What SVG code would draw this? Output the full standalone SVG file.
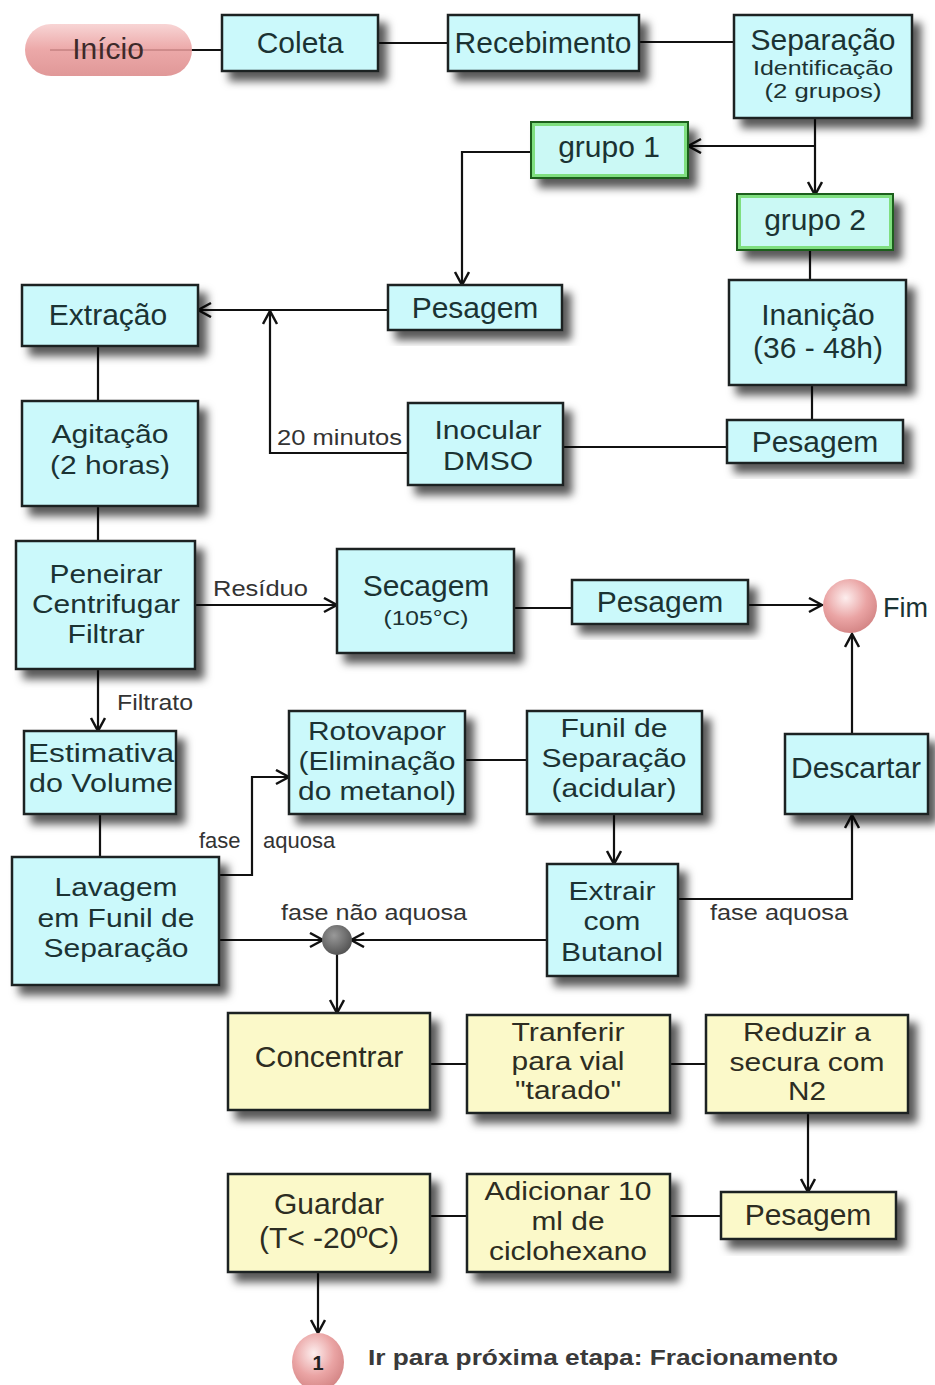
<svg xmlns="http://www.w3.org/2000/svg" width="935" height="1385" viewBox="0 0 935 1385">
<defs>
<style>
.box{fill:#cbf9fb;stroke:#1a2424;stroke-width:2.5;filter:url(#sh)}
.ybox{fill:#fbf9c9;stroke:#1a2424;stroke-width:2.5;filter:url(#sh)}
.gbox{fill:#cbf9f5;stroke:#1f5f1f;stroke-width:2;filter:url(#sh)}
.gin{fill:none;stroke:#7fdf7f;stroke-width:3}
.t{font-family:"Liberation Sans",Arial,sans-serif;font-size:30px;fill:#1b3333;text-anchor:middle}
.ty{font-family:"Liberation Sans",Arial,sans-serif;font-size:30px;fill:#2d2d22;text-anchor:middle}
.m{font-size:26px}
.l{font-family:"Liberation Sans",Arial,sans-serif;font-size:22px;fill:#333;text-anchor:start}
.c{fill:none;stroke:#111;stroke-width:2.2}
.a{marker-end:url(#arr)}
</style>
<filter id="sh" x="-15%" y="-15%" width="140%" height="150%">
<feDropShadow dx="8" dy="9" stdDeviation="4" flood-color="#000" flood-opacity="0.65"/>
</filter>
<marker id="arr" markerUnits="userSpaceOnUse" markerWidth="16" markerHeight="18" refX="14" refY="8" orient="auto">
<path d="M1,1 L14,8 L1,15" fill="none" stroke="#111" stroke-width="2.5"/>
</marker>
<linearGradient id="pill" x1="0" y1="0" x2="0" y2="1">
<stop offset="0" stop-color="#f7cfcf"/>
<stop offset="0.5" stop-color="#e99c9c"/>
<stop offset="1" stop-color="#dc8a8a"/>
</linearGradient>
<radialGradient id="ball" cx="0.42" cy="0.35" r="0.65">
<stop offset="0" stop-color="#fdeeee"/>
<stop offset="0.6" stop-color="#eaa4a4"/>
<stop offset="1" stop-color="#d58787"/>
</radialGradient>
<radialGradient id="dot" cx="0.4" cy="0.35" r="0.65">
<stop offset="0" stop-color="#999"/>
<stop offset="1" stop-color="#555"/>
</radialGradient>
</defs>
<rect width="935" height="1385" fill="#fff"/>

<g id="connectors">
<path class="c" d="M50,50 H222"/>
<path class="c" d="M378,43 H448"/>
<path class="c" d="M639,42 H734"/>
<path class="c a" d="M815,118 V195"/>
<path class="c a" d="M815,146 H688"/>
<path class="c a" d="M531,152 H462 V285"/>
<path class="c" d="M810,250 V280"/>
<path class="c" d="M812,385 V420"/>
<path class="c" d="M727,447 H563"/>
<path class="c a" d="M408,453 H270 V311"/>
<path class="c a" d="M388,310 H198"/>
<path class="c" d="M98,346 V401"/>
<path class="c" d="M98,506 V541"/>
<path class="c a" d="M195,605 H337"/>
<path class="c" d="M514,608 H572"/>
<path class="c a" d="M748,605 H822"/>
<path class="c a" d="M98,669 V731"/>
<path class="c" d="M100,814 V857"/>
<path class="c a" d="M219,875 H252 V777 H289"/>
<path class="c" d="M465,760 H527"/>
<path class="c a" d="M614,814 V864"/>
<path class="c a" d="M678,899 H852 V815"/>
<path class="c a" d="M852,734 V634"/>
<path class="c a" d="M219,940 H323"/>
<path class="c a" d="M547,940 H351"/>
<path class="c a" d="M337,940 V1013"/>
<path class="c" d="M430,1064 H467"/>
<path class="c" d="M670,1064 H706"/>
<path class="c a" d="M808,1113 V1192"/>
<path class="c" d="M721,1216 H670"/>
<path class="c" d="M467,1216 H430"/>
<path class="c a" d="M318,1273 V1333"/>
</g>

<g id="inicio">
<rect x="25" y="24" width="167" height="52" rx="26" fill="url(#pill)" opacity="0.88"/>
<text x="108" y="59" class="t" style="fill:#3d2a2a">Início</text>
</g>
<g id="coleta">
<rect class="box" x="222" y="15" width="156" height="56"/>
<text class="t" x="300" y="53">Coleta</text>
</g>
<g id="recebimento">
<rect class="box" x="448" y="15" width="191" height="56"/>
<text class="t" x="543" y="53">Recebimento</text>
</g>
<g id="separacao">
<rect class="box" x="734" y="15" width="178" height="103"/>
<text class="t" x="823" y="50">Separação</text>
<text class="t" x="823" y="75" style="font-size:20px" textLength="140" lengthAdjust="spacingAndGlyphs">Identificação</text>
<text class="t" x="823" y="98" style="font-size:20px" textLength="117" lengthAdjust="spacingAndGlyphs">(2 grupos)</text>
</g>
<g id="grupo1">
<rect class="gbox" x="531" y="122" width="157" height="56"/>
<rect class="gin" x="533.5" y="124.5" width="152" height="51"/>
<text class="t" x="609" y="157">grupo 1</text>
</g>
<g id="grupo2">
<rect class="gbox" x="737" y="194" width="156" height="56"/>
<rect class="gin" x="739.5" y="196.5" width="151" height="51"/>
<text class="t" x="815" y="230">grupo 2</text>
</g>
<g id="pesagem1">
<rect class="box" x="388" y="285" width="174" height="45"/>
<text class="t" x="475" y="318">Pesagem</text>
</g>
<g id="extracao">
<rect class="box" x="22" y="285" width="176" height="61"/>
<text class="t" x="108" y="325">Extração</text>
</g>
<g id="inanicao">
<rect class="box" x="729" y="280" width="177" height="105"/>
<text class="t" x="818" y="325">Inanição</text>
<text class="t" x="818" y="358">(36 - 48h)</text>
</g>
<g id="agitacao">
<rect class="box" x="22" y="401" width="176" height="105"/>
<text class="t m" x="110" y="443" textLength="117" lengthAdjust="spacingAndGlyphs">Agitação</text>
<text class="t m" x="110" y="474" textLength="120" lengthAdjust="spacingAndGlyphs">(2 horas)</text>
</g>
<g id="inocular">
<rect class="box" x="408" y="403" width="155" height="82"/>
<text class="t m" x="488" y="439" textLength="107" lengthAdjust="spacingAndGlyphs">Inocular</text>
<text class="t m" x="488" y="470" textLength="90" lengthAdjust="spacingAndGlyphs">DMSO</text>
</g>
<text class="l" x="277" y="445" textLength="125" lengthAdjust="spacingAndGlyphs">20 minutos</text>
<g id="pesagem2">
<rect class="box" x="727" y="420" width="176" height="43"/>
<text class="t" x="815" y="452">Pesagem</text>
</g>
<g id="peneirar">
<rect class="box" x="16" y="541" width="179" height="128"/>
<text class="t m" x="106" y="583" textLength="113" lengthAdjust="spacingAndGlyphs">Peneirar</text>
<text class="t m" x="106" y="613" textLength="148" lengthAdjust="spacingAndGlyphs">Centrifugar</text>
<text class="t m" x="106" y="643" textLength="77" lengthAdjust="spacingAndGlyphs">Filtrar</text>
</g>
<text class="l" x="213" y="596" textLength="95" lengthAdjust="spacingAndGlyphs">Resíduo</text>
<g id="secagem">
<rect class="box" x="337" y="549" width="177" height="104"/>
<text class="t" x="426" y="596">Secagem</text>
<text class="t" x="426" y="625" style="font-size:20px" textLength="85" lengthAdjust="spacingAndGlyphs">(105°C)</text>
</g>
<g id="pesagem3">
<rect class="box" x="572" y="580" width="176" height="44"/>
<text class="t" x="660" y="612">Pesagem</text>
</g>
<g id="fim">
<circle cx="850" cy="606" r="27" fill="url(#ball)"/>
<text class="l" x="883" y="617" style="font-size:27px;fill:#1b3333">Fim</text>
</g>
<text class="l" x="117" y="710" textLength="76" lengthAdjust="spacingAndGlyphs">Filtrato</text>
<g id="estimativa">
<rect class="box" x="24" y="731" width="152" height="83"/>
<text class="t m" x="101" y="762" textLength="146" lengthAdjust="spacingAndGlyphs">Estimativa</text>
<text class="t m" x="101" y="792" textLength="144" lengthAdjust="spacingAndGlyphs">do Volume</text>
</g>
<g id="rotovapor">
<rect class="box" x="289" y="711" width="176" height="103"/>
<text class="t m" x="377" y="740" textLength="138" lengthAdjust="spacingAndGlyphs">Rotovapor</text>
<text class="t m" x="377" y="770" textLength="157" lengthAdjust="spacingAndGlyphs">(Eliminação</text>
<text class="t m" x="377" y="800" textLength="158" lengthAdjust="spacingAndGlyphs">do metanol)</text>
</g>
<g id="funil">
<rect class="box" x="527" y="711" width="175" height="103"/>
<text class="t m" x="614" y="737" textLength="107" lengthAdjust="spacingAndGlyphs">Funil de</text>
<text class="t m" x="614" y="767" textLength="145" lengthAdjust="spacingAndGlyphs">Separação</text>
<text class="t m" x="614" y="797" textLength="125" lengthAdjust="spacingAndGlyphs">(acidular)</text>
</g>
<g id="descartar">
<rect class="box" x="785" y="734" width="143" height="80"/>
<text class="t" x="856" y="778">Descartar</text>
</g>
<text class="l" x="199" y="848"><tspan x="199">fase</tspan><tspan x="263">aquosa</tspan></text>
<g id="lavagem">
<rect class="box" x="12" y="857" width="207" height="128"/>
<text class="t m" x="116" y="896" textLength="123" lengthAdjust="spacingAndGlyphs">Lavagem</text>
<text class="t m" x="116" y="927" textLength="157" lengthAdjust="spacingAndGlyphs">em Funil de</text>
<text class="t m" x="116" y="957" textLength="145" lengthAdjust="spacingAndGlyphs">Separação</text>
</g>
<text class="l" x="281" y="920" textLength="186" lengthAdjust="spacingAndGlyphs">fase não aquosa</text>
<g id="juncao">
<circle cx="337" cy="940" r="15" fill="url(#dot)"/>
</g>
<g id="extrair">
<rect class="box" x="547" y="864" width="131" height="112"/>
<text class="t m" x="612" y="900" textLength="87" lengthAdjust="spacingAndGlyphs">Extrair</text>
<text class="t m" x="612" y="930" textLength="57" lengthAdjust="spacingAndGlyphs">com</text>
<text class="t m" x="612" y="961" textLength="102" lengthAdjust="spacingAndGlyphs">Butanol</text>
</g>
<text class="l" x="710" y="920" textLength="138" lengthAdjust="spacingAndGlyphs">fase aquosa</text>
<g id="concentrar">
<rect class="ybox" x="228" y="1013" width="202" height="97"/>
<text class="ty" x="329" y="1067">Concentrar</text>
</g>
<g id="tranferir">
<rect class="ybox" x="467" y="1015" width="203" height="98"/>
<text class="ty m" x="568" y="1041" textLength="113" lengthAdjust="spacingAndGlyphs">Tranferir</text>
<text class="ty m" x="568" y="1070" textLength="113" lengthAdjust="spacingAndGlyphs">para vial</text>
<text class="ty m" x="568" y="1099" textLength="106" lengthAdjust="spacingAndGlyphs">"tarado"</text>
</g>
<g id="reduzir">
<rect class="ybox" x="706" y="1015" width="202" height="98"/>
<text class="ty m" x="807" y="1041" textLength="128" lengthAdjust="spacingAndGlyphs">Reduzir a</text>
<text class="ty m" x="807" y="1071" textLength="155" lengthAdjust="spacingAndGlyphs">secura com</text>
<text class="ty m" x="807" y="1100" textLength="38" lengthAdjust="spacingAndGlyphs">N2</text>
</g>
<g id="guardar">
<rect class="ybox" x="228" y="1174" width="202" height="98"/>
<text class="ty" x="329" y="1214">Guardar</text>
<text class="ty" x="329" y="1248">(T&lt; -20ºC)</text>
</g>
<g id="adicionar">
<rect class="ybox" x="467" y="1174" width="203" height="98"/>
<text class="ty m" x="568" y="1200" textLength="167" lengthAdjust="spacingAndGlyphs">Adicionar 10</text>
<text class="ty m" x="568" y="1230" textLength="73" lengthAdjust="spacingAndGlyphs">ml de</text>
<text class="ty m" x="568" y="1260" textLength="158" lengthAdjust="spacingAndGlyphs">ciclohexano</text>
</g>
<g id="pesagem4">
<rect class="ybox" x="721" y="1192" width="175" height="47"/>
<text class="ty" x="808" y="1225">Pesagem</text>
</g>
<g id="proxima">
<ellipse cx="318" cy="1362" rx="26" ry="29" fill="url(#ball)"/>
<text x="318" y="1370" style="font-family:'Liberation Sans',Arial,sans-serif;font-size:20px;font-weight:bold;fill:#222;text-anchor:middle">1</text>
<text class="l" x="368" y="1365" style="font-weight:bold;fill:#3a3a3a" textLength="470" lengthAdjust="spacingAndGlyphs">Ir para próxima etapa:  Fracionamento</text>
</g>
</svg>
